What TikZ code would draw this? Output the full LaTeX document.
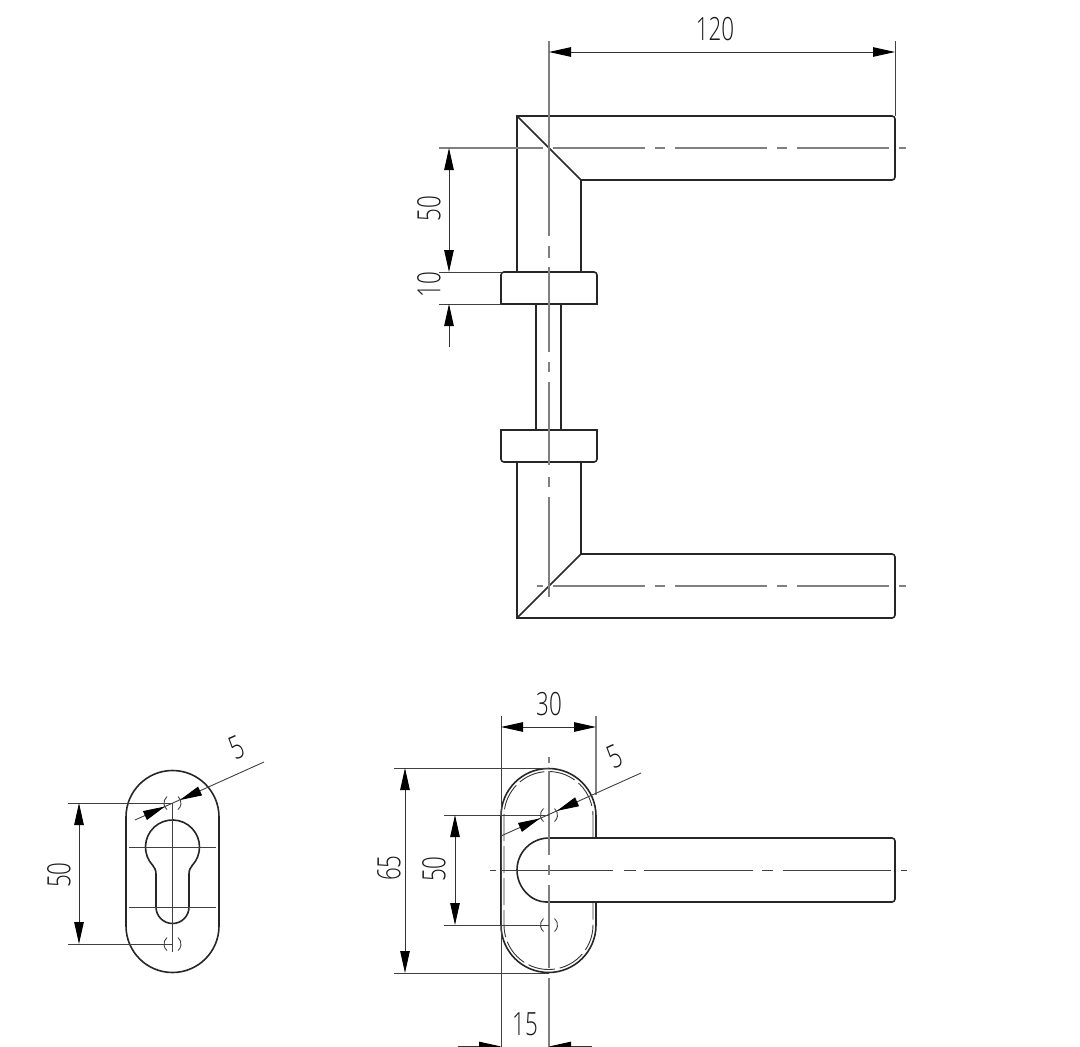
\documentclass[tikz,border=0pt]{standalone}
\usepackage{fontspec}
\setmainfont{Open Sans Light}
\usetikzlibrary{arrows.meta}
\tikzstyle{outline} = [line width=1.6pt, black!85, line join=miter]
\tikzstyle{thinline} = [line width=0.9pt, black!75]
\tikzstyle{axisline} = [line width=1.2pt, black!50]
\tikzstyle{hiddenline} = [line width=0.9pt, black!80, dash pattern=on 27pt off 5pt]
\tikzset{dimtip/.tip={Triangle[length=22pt,width=9.5pt,color=black,fill=black]}}
\tikzstyle{dimline} = [line width=0.9pt, black!80, dimtip-dimtip]
\tikzstyle{dimend} = [line width=0.9pt, black!80, -dimtip]
\tikzstyle{dimtext} = [inner sep=0pt, black!90, font=\fontsize{32}{32}\selectfont, xscale=0.7]
\begin{document}
\begin{tikzpicture}[x=1pt, y=-1pt]
\useasboundingbox (0,0) rectangle (1080,1047);

% lever, side view
\draw [outline] (581,272) -- (581,180) [rounded corners=3pt] -- (895,180) -- (895,116) [sharp corners] -- (517,116) -- (517,272);
\draw [outline] (517,116) -- (581,180);
\draw [outline] (581,462) -- (581,554) [rounded corners=3pt] -- (895,554) -- (895,618) [sharp corners] -- (517,618) -- (517,462);
\draw [outline] (517,618) -- (581,554);
\draw [outline] (501,304) [rounded corners=3pt] -- (501,272) -- (597,272) [sharp corners] -- (597,304) -- cycle;
\draw [outline] (501,430) [rounded corners=3pt] -- (501,462) -- (597,462) [sharp corners] -- (597,430) -- cycle;
\draw [outline] (536,304) -- (536,430);
\draw [outline] (561,304) -- (561,430);

% centre lines
\draw [axisline, dash pattern=on 195pt off 10pt on 12pt off 9pt on 85pt off 10pt on 10pt off 10pt on 83pt off 12pt on 10pt off 10pt on 100pt off 100pt] (549,41) -- (549,597);
\draw [axisline] (439,148) -- (543,148);
\draw [axisline, dash pattern=on 92pt off 10pt on 10pt off 10pt] (553,148) -- (906,148);
\draw [axisline] (537,586) -- (543,586);
\draw [axisline, dash pattern=on 92pt off 10pt on 10pt off 10pt] (553,586) -- (906,586);

% dimensions, side view
\draw [thinline] (895,41) -- (895,116);
\draw [dimline] (549,52) -- (895,52);
\draw [thinline] (439,272) -- (501,272);
\draw [thinline] (439,304) -- (501,304);
\draw [dimline] (449,148) -- (449,272);
\draw [dimend] (449,347) -- (449,304);
\node (dim120) [dimtext] at (715,29) {120};
\node (dim50a) [rotate=90, dimtext] at (429,209) {50};
\node (dim10) [rotate=90, dimtext] at (429,285) {10};

% cylinder plate
\draw [outline] (126,817) arc (180:360:46.5) -- (219,926) arc (0:180:46.5) -- cycle;
\draw [outline] (156,907) -- (156,874) .. controls (156,870) and (154.5,867.5) .. (152.75,865.4) arc (137:403:27) .. controls (190.5,867.5) and (189,870) .. (189,874) -- (189,907) arc (0:180:16.5) -- cycle;
\draw [thinline] (129,847) -- (216,847);
\draw [thinline] (129,907) -- (216,907);
\draw [thinline] (172.5,803) -- (172.5,952);
\draw [thinline] (68,803) -- (172,803);
\draw [thinline] (68,944) -- (172,944);
\draw [dimline] (79,803) -- (79,944);
\draw [thinline] (135,820) -- (264,762);
\draw [dimend] (200,791) -- (180,800);
\draw [dimend] (145,815.5) -- (165,806.5);
\foreach \holey in {803,944} {
  \draw [thinline] (167,\holey-6.5) arc (230:130:8.5);
  \draw [thinline] (178,\holey-6.5) arc (-50:50:8.5);
}
\node (dim50b) [rotate=90, dimtext] at (59,875) {50};
\node (dim5a) [rotate=24, dimtext] at (237,748) {5};

% rose and lever, front view
\draw [outline] (596,838) -- (596,816) arc (0:-180:47.5) -- (501,925) arc (180:0:47.5) -- (596,902);
\draw [hiddenline] (593,838) -- (593,816) arc (0:-180:44.5) -- (504,925) arc (180:0:44.5) -- (593,902);
\draw [outline, rounded corners=3pt] (549,838) -- (895,838) -- (895,902) -- (549,902) arc (90:270:32);
\draw [thinline] (490,870) -- (496,870);
\draw [thinline, dash pattern=on 112pt off 11pt on 12pt off 8pt on 109pt off 9pt on 11pt off 10pt on 108pt off 10pt on 6pt off 20pt] (501,870) -- (907,870);
\draw [axisline] (549,757) -- (549,763);
\draw [axisline] (549,771) -- (549,855);
\draw [axisline] (549,865) -- (549,875);
\draw [axisline] (549,885) -- (549,968);
\draw [axisline] (549,978) -- (549,1047);
\foreach \holey in {815,925} {
  \draw [thinline] (543.5,\holey-6.5) arc (230:130:8.5);
  \draw [thinline] (554.5,\holey-6.5) arc (-50:50:8.5);
}

% dimensions, front view
\draw [thinline] (501,716) -- (501,1047);
\draw [axisline] (596,716) -- (596,795);
\draw [dimline] (501,727) -- (596,727);
\draw [thinline] (394,768) -- (549,768);
\draw [thinline] (394,973) -- (549,973);
\draw [dimline] (405,768) -- (405,973);
\draw [thinline] (444,815) -- (549,815);
\draw [thinline] (444,925) -- (549,925);
\draw [dimline] (455,815) -- (455,925);
\draw [thinline] (501,836) -- (641,773);
\draw [dimend] (577,801.8) -- (557,810.8);
\draw [dimend] (520,827.4) -- (540,818.4);
\draw [dimend] (458,1046.5) -- (501,1046.5);
\draw [dimend] (592,1046.5) -- (549,1046.5);
\node (dim30) [dimtext] at (549,704) {30};
\node (dim65) [rotate=90, dimtext] at (389,868) {65};
\node (dim50c) [rotate=90, dimtext] at (434,869) {50};
\node (dim5b) [rotate=24, dimtext] at (615,757) {5};
\node (dim15) [dimtext] at (525,1024) {15};
\end{tikzpicture}
\end{document}
